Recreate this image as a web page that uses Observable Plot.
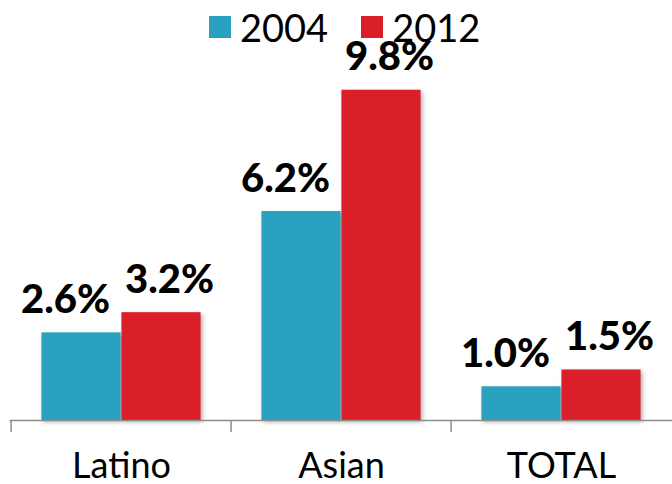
<!DOCTYPE html>
<html><head><meta charset="utf-8">
<script src="https://cdn.jsdelivr.net/npm/d3@7"></script>
<script src="https://cdn.jsdelivr.net/npm/@observablehq/plot@0.6"></script>
<style>
body{margin:0;background:#fff;}
#chart{position:relative;width:672px;height:484px;font-family:Lato,sans-serif;}
#chart svg{position:absolute;left:0;top:0;}
#legend{position:absolute;top:8px;left:209px;display:flex;align-items:center;font-size:38px;line-height:1;color:#000;z-index:2;}
.item{display:flex;align-items:center;margin-right:33px;}
.sw{width:22px;height:22px;margin-right:9px;}
</style></head><body><div id="chart"><div id="legend"></div></div>
<script>
const categories = ["Latino", "Asian", "TOTAL"];
const years = ["2004", "2012"];
const values2004 = [2.6, 6.2, 1.0];
const values2012 = [3.2, 9.8, 1.5];
const colors = ["#2aa1bf", "#da1f2a"];

const data2004 = categories.map((c, i) => ({category: c, year: "2004", value: values2004[i]}));
const data2012 = categories.map((c, i) => ({category: c, year: "2012", value: values2012[i]}));

const W = 672, H = 484, mL = 9.5, mR = 0;
const bw = (W - mL - mR) / categories.length;
const barW = 80;
const gap = (bw - 2 * barW) / 2;
const axisColor = "#8c8c8c";
const fmt = d => d.value.toFixed(1) + "%";

const chart = Plot.plot({
  width: W, height: H,
  marginLeft: mL, marginRight: mR, marginTop: 83, marginBottom: 64,
  x: {type: "band", domain: categories, padding: 0, axis: null},
  y: {domain: [0, 10], axis: null},
  color: {domain: years, range: colors},
  style: {fontFamily: "Lato, sans-serif", background: "transparent", overflow: "visible"},
  marks: [
    Plot.barY(data2004, {x: "category", y: "value", fill: "year", insetLeft: gap, insetRight: gap + barW}),
    Plot.barY(data2012, {x: "category", y: "value", fill: "year", insetLeft: gap + barW, insetRight: gap}),
    Plot.ruleY([0], {stroke: axisColor, strokeWidth: 1.5}),
    Plot.ruleX(categories, {x: d => d, y1: 0, y2: 0, insetBottom: -12, dx: -bw / 2, stroke: axisColor, strokeWidth: 1.5}),
    Plot.text(categories, {x: d => d, y: 0, dy: 57, text: d => d, lineAnchor: "bottom", fontSize: 36, fill: "#000"}),
    Plot.text(data2004, {x: "category", y: "value", text: fmt, dx: -barW / 2 - 16, dy: -20, lineAnchor: "bottom", fontSize: 40, fontWeight: 900, fill: "#000"}),
    Plot.text(data2012, {x: "category", y: "value", text: fmt, dx: barW / 2 + 8, dy: -20, lineAnchor: "bottom", fontSize: 40, fontWeight: 900, fill: "#000"})
  ]
});
chart.querySelectorAll('g[aria-label="bar"]').forEach(g => g.style.filter = "drop-shadow(2px 2px 2px rgba(0,0,0,0.3))");
document.getElementById("chart").appendChild(chart);

const legend = document.getElementById("legend");
years.forEach((y, i) => {
  const item = document.createElement("div");
  item.className = "item";
  const sw = document.createElement("span");
  sw.className = "sw";
  sw.style.background = colors[i];
  const t = document.createElement("span");
  t.textContent = y;
  item.appendChild(sw); item.appendChild(t);
  legend.appendChild(item);
});
</script>
</body></html>
